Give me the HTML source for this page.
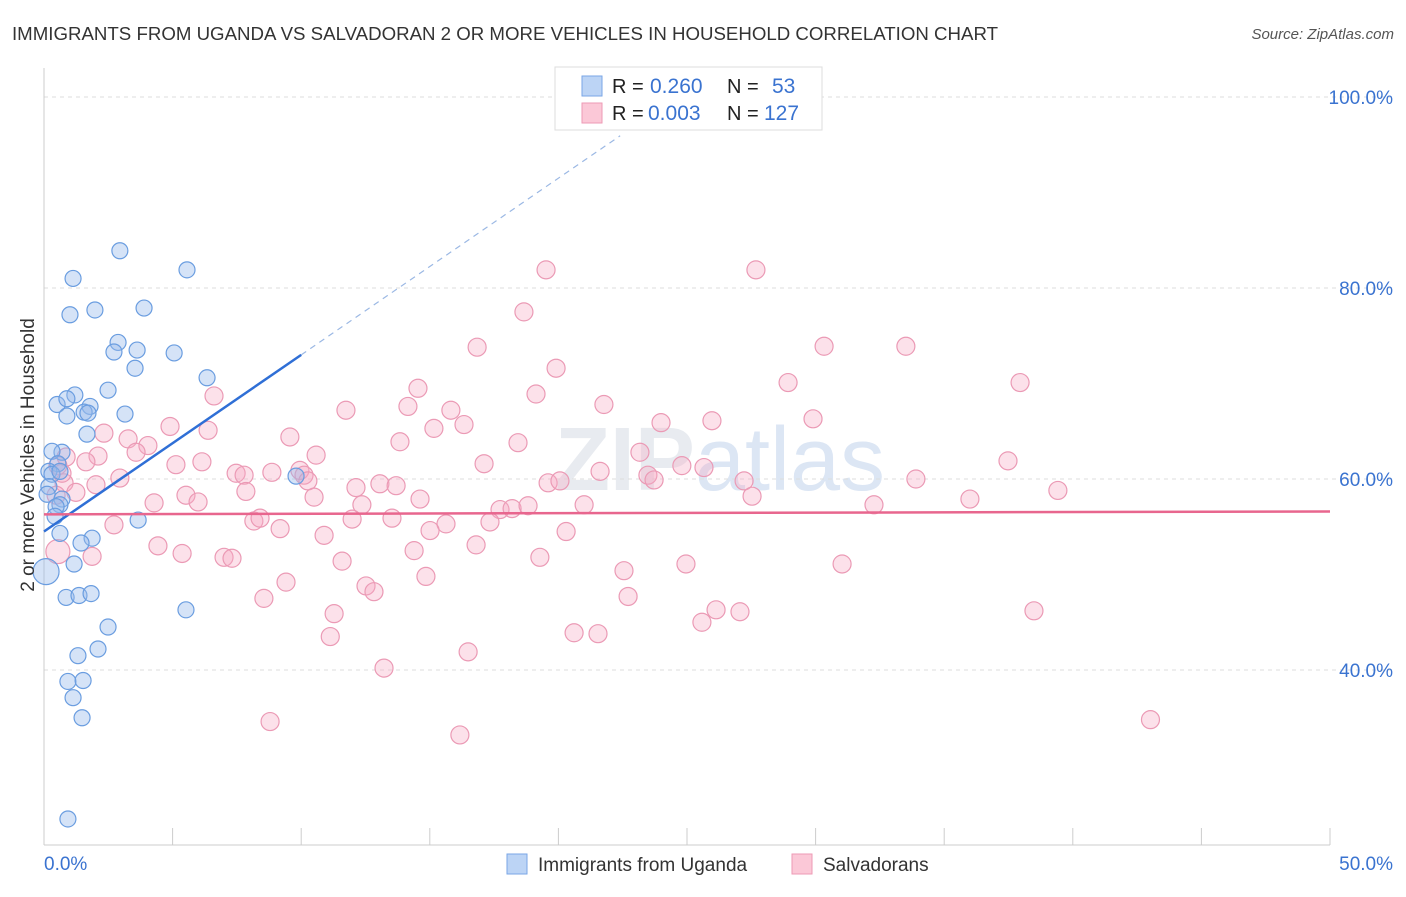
<!DOCTYPE html>
<html><head><meta charset="utf-8"><style>
body{margin:0;background:#fff;font-family:"Liberation Sans",sans-serif;}
svg text{font-family:"Liberation Sans",sans-serif;}
</style></head><body>
<svg id="c" width="1406" height="892">
<text x="12" y="40" font-size="18" textLength="986" lengthAdjust="spacingAndGlyphs" fill="#333">IMMIGRANTS FROM UGANDA VS SALVADORAN 2 OR MORE VEHICLES IN HOUSEHOLD CORRELATION CHART</text>
<text x="1394" y="39" font-size="15" fill="#555" text-anchor="end" font-style="italic">Source: ZipAtlas.com</text>
<text x="720" y="490" font-size="90" fill="#e8ebf0" text-anchor="middle" font-weight="bold">ZIP<tspan font-weight="normal" fill="#dce6f4">atlas</tspan></text>
<g id="grid"></g>
<g id="pts"></g>
<g id="lines"></g>
<text transform="translate(34,455) rotate(-90)" font-size="19" fill="#333" text-anchor="middle">2 or more Vehicles in Household</text>
<g>
<rect x="555" y="67" width="267" height="63" fill="#fff" stroke="#ddd"/>
<rect x="582" y="76" width="20" height="20" fill="#bcd4f5" stroke="#7aa6e6"/>
<rect x="582" y="103" width="20" height="20" fill="#fbc8d7" stroke="#ee9ab4"/>
<text x="612" y="93" font-size="20" fill="#222">R =</text>
<text x="650" y="93" font-size="21" fill="#3a73d0">0.260</text>
<text x="727" y="93" font-size="20" fill="#222">N =</text>
<text x="772" y="93" font-size="21" fill="#3a73d0">53</text>
<text x="612" y="120" font-size="20" fill="#222">R =</text>
<text x="648" y="120" font-size="21" fill="#3a73d0">0.003</text>
<text x="727" y="120" font-size="20" fill="#222">N =</text>
<text x="764" y="120" font-size="21" fill="#3a73d0">127</text>
</g>
<g>
<rect x="507" y="854" width="20" height="20" fill="#bcd4f5" stroke="#7aa6e6"/>
<text x="538" y="871" font-size="19" fill="#333">Immigrants from Uganda</text>
<rect x="792" y="854" width="20" height="20" fill="#fbc8d7" stroke="#ee9ab4"/>
<text x="823" y="871" font-size="19" fill="#333">Salvadorans</text>
</g>
</svg>
<script>
const yTicks=[40,60,80,100];
const xTickLabels=["0.0%","50.0%"];
const blueX=[2.95,1.13,5.56,1.01,1.98,3.89,2.88,3.62,2.72,5.06,3.54,6.34,2.49,1.20,0.51,0.89,1.79,1.56,1.71,3.15,0.89,1.67,0.70,0.31,0.54,0.19,0.31,0.62,0.19,0.12,0.70,0.62,0.47,0.43,3.66,9.80,0.62,1.87,1.44,1.17,0.08,0.86,1.36,1.83,5.52,2.49,2.10,1.32,0.93,1.52,1.13,1.48,0.93];
const blueY=[83.9,81.0,81.9,77.2,77.7,77.9,74.3,73.5,73.3,73.2,71.6,70.6,69.3,68.8,67.8,68.4,67.6,67.0,66.9,66.8,66.6,64.7,62.8,62.9,61.6,60.8,60.5,60.8,59.2,58.4,57.9,57.3,57.1,56.1,55.7,60.3,54.3,53.8,53.3,51.1,50.3,47.6,47.8,48.0,46.3,44.5,42.2,41.5,38.8,38.9,37.1,35.0,24.4];
const pinkX=[19.52,27.68,18.66,16.84,30.33,33.51,19.91,14.54,28.93,37.95,6.61,14.15,19.13,21.77,11.74,15.82,16.33,15.16,23.99,25.97,29.90,4.90,6.38,2.33,3.27,4.04,3.58,2.10,1.63,0.86,9.56,13.84,18.43,10.58,23.17,5.13,6.14,7.47,7.78,8.86,9.95,10.11,10.26,12.13,13.06,13.69,17.11,21.62,23.48,23.72,24.80,25.66,27.22,37.48,33.90,39.42,36.00,2.95,2.02,0.78,0.47,5.52,5.99,4.28,7.85,10.50,12.36,14.62,19.60,20.06,21.00,17.73,18.20,18.82,27.53,32.27,8.16,8.40,9.18,10.89,11.98,13.53,15.63,15.01,17.34,20.30,2.72,4.43,5.37,1.87,0.54,7.00,7.31,11.59,14.39,16.80,19.28,24.96,31.03,22.55,9.41,12.52,12.83,14.85,8.55,22.71,11.28,26.13,27.06,38.49,25.58,20.61,21.54,11.13,16.49,13.22,8.79,16.17,43.02,0.54,1.24,0.70];
const pinkY=[81.9,81.9,77.5,73.8,73.9,73.9,71.6,69.5,70.1,70.1,68.7,67.6,68.9,67.8,67.2,67.2,65.7,65.3,65.9,66.1,66.3,65.5,65.1,64.8,64.2,63.5,62.8,62.4,61.8,62.3,64.4,63.9,63.8,62.5,62.8,61.5,61.8,60.6,60.4,60.7,60.9,60.4,59.8,59.1,59.5,59.3,61.6,60.8,60.4,59.9,61.4,61.2,59.8,61.9,60.0,58.8,57.9,60.1,59.4,59.6,58.3,58.3,57.6,57.5,58.7,58.1,57.3,57.9,59.6,59.8,57.3,56.8,56.9,57.2,58.2,57.3,55.6,55.9,54.8,54.1,55.8,55.9,55.3,54.6,55.5,54.5,55.2,53.0,52.2,51.9,52.4,51.8,51.7,51.4,52.5,53.1,51.8,51.1,51.1,50.4,49.2,48.8,48.2,49.8,47.5,47.7,45.9,46.3,46.1,46.2,45.0,43.9,43.8,43.5,41.9,40.2,34.6,33.2,34.8,61.4,58.6,60.6];
const X=v=>44+v*25.72, Y=v=>97+(100-v)*9.55;
const NS="http://www.w3.org/2000/svg";
function mk(tag,attrs,parent){const e=document.createElementNS(NS,tag);for(const k in attrs)e.setAttribute(k,attrs[k]);parent.appendChild(e);return e;}
const grid=document.getElementById('grid');
for(const t of yTicks){
 const l=mk('line',{x1:44,x2:1394,y1:Y(t),y2:Y(t),stroke:'#ddd','stroke-dasharray':'4,4'},grid);
 
 
 const tx=mk('text',{x:1393,y:Y(t)+7,'font-size':19,fill:'#3a73d0','text-anchor':'end'},grid);
 tx.textContent=t.toFixed(1)+'%';
 
 
}
mk('line',{x1:44,x2:44,y1:68,y2:845,stroke:'#ccc'},grid);
mk('line',{x1:44,x2:1330,y1:845,y2:845,stroke:'#ccc'},grid);
for(let i=0;i<=10;i++){const l=mk('line',{x1:X(i*5),x2:X(i*5),y1:828,y2:845,stroke:'#ccc'},grid);
 
 }
const xl0=mk('text',{x:44,y:870,'font-size':19,fill:'#3a73d0'},grid);xl0.textContent=xTickLabels[0];


const xl1=mk('text',{x:1393,y:870,'font-size':19,fill:'#3a73d0','text-anchor':'end'},grid);xl1.textContent=xTickLabels[1];


const pts=document.getElementById('pts');
pinkX.forEach((x,i)=>{const c=mk('circle',{cx:X(x),cy:Y(pinkY[i]),r:i==90?12:9,fill:'rgba(245,170,195,0.35)',stroke:'#eb9ab5','stroke-width':1.2},pts);
 
 });
blueX.forEach((x,i)=>{const c=mk('circle',{cx:X(x),cy:Y(blueY[i]),r:i==40?13:8,fill:'rgba(150,185,235,0.4)',stroke:'#6a9de0','stroke-width':1.2},pts);
 
 });
const lines=document.getElementById('lines');
const b0=54.5,bs=1.85;
let l=mk('line',{x1:X(0),y1:Y(b0),x2:X(10),y2:Y(b0+bs*10),stroke:'#2f6fd6','stroke-width':2.5},lines);


l=mk('line',{x1:X(10),y1:Y(b0+bs*10),x2:X(22.4),y2:Y(b0+bs*22.4),stroke:'#9bb8e4','stroke-width':1.2,'stroke-dasharray':'6,5'},lines);


l=mk('line',{x1:X(0),y1:Y(56.3),x2:X(50),y2:Y(56.6),stroke:'#e8668e','stroke-width':2.5},lines);


</script>
</body></html>
